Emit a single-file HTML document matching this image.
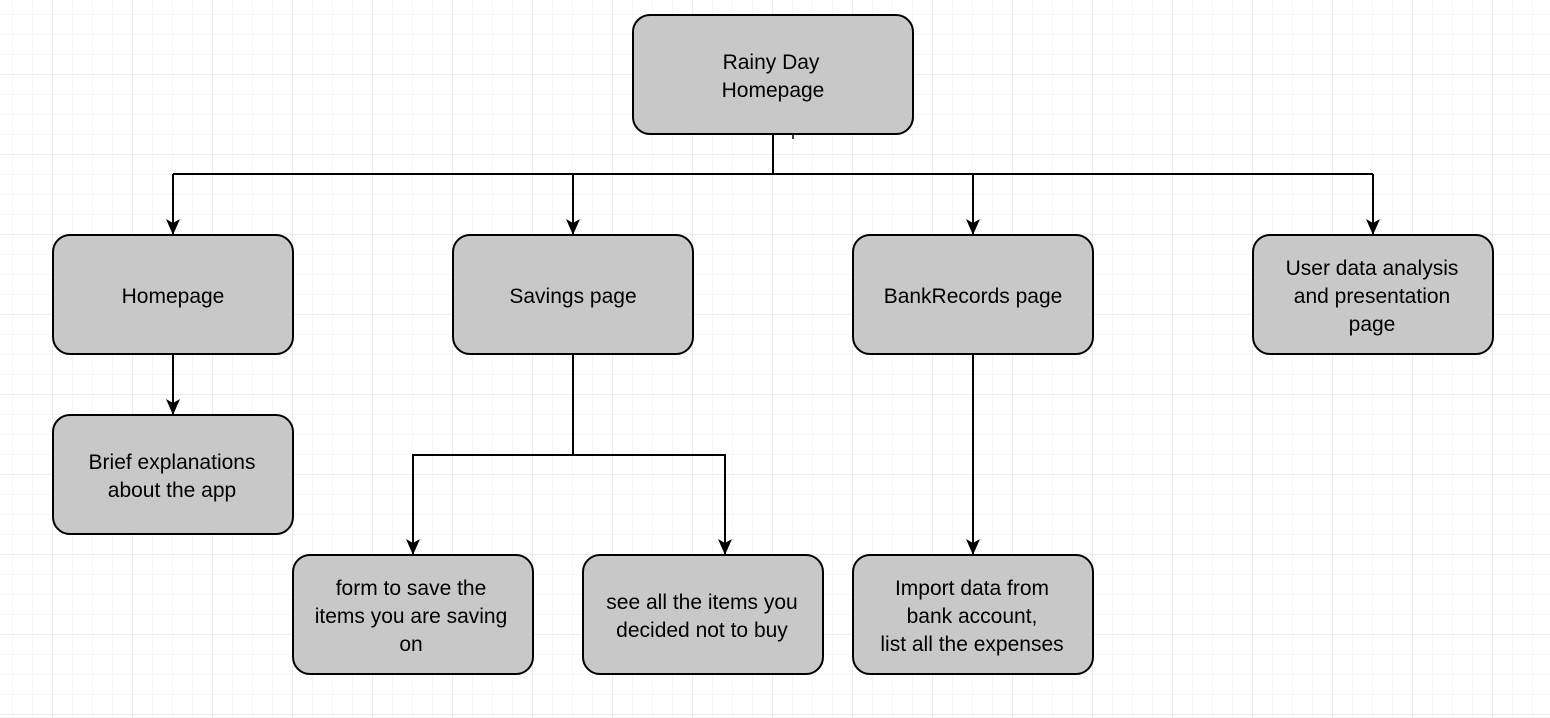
<!DOCTYPE html>
<html><head><style>
body{margin:0;background:#fff}
svg{display:block}
text{font-family:"Liberation Sans",Arial,sans-serif;font-size:21px;fill:#000;text-anchor:middle}
</style></head><body>
<svg width="1550" height="718" viewBox="0 0 1550 718">
<defs>
<pattern id="mi" x="12.5" y="14" width="20" height="20" patternUnits="userSpaceOnUse"><path d="M0 0V20M0 0H20" stroke="#efefef" stroke-width="1" fill="none"/></pattern>
<pattern id="ma" x="52.5" y="74" width="80" height="80" patternUnits="userSpaceOnUse"><path d="M0 0V80M0 0H80" stroke="#d8d8d8" stroke-width="1" fill="none"/></pattern>
<marker id="ar" markerWidth="16" markerHeight="16" viewBox="0 0 16 16" refX="15" refY="8" orient="auto" markerUnits="userSpaceOnUse"><path d="M0 1L16 8L0 15L4 8Z" fill="#000"/></marker>
</defs>
<rect width="1550" height="718" fill="url(#mi)"/>
<rect width="1550" height="718" fill="url(#ma)"/>
<g stroke="#000" stroke-width="2" fill="none">
<path d="M773 135V174M173 174H1373"/>
<path d="M173 174V234" marker-end="url(#ar)"/>
<path d="M573 174V234" marker-end="url(#ar)"/>
<path d="M973 174V234" marker-end="url(#ar)"/>
<path d="M1373 174V234" marker-end="url(#ar)"/>
<path d="M173 355V414" marker-end="url(#ar)"/>
<path d="M573 355V455H413V554" marker-end="url(#ar)"/>
<path d="M573 455H725V554" marker-end="url(#ar)"/>
<path d="M973 355V554" marker-end="url(#ar)"/>
<path d="M793 135V139" stroke-width="1.5"/>
</g>
<g fill="#c8c8c8" stroke="#000" stroke-width="2">
<rect x="633" y="15" width="280" height="119" rx="17"/>
<rect x="53" y="235" width="240" height="119" rx="17"/>
<rect x="453" y="235" width="240" height="119" rx="17"/>
<rect x="853" y="235" width="240" height="119" rx="17"/>
<rect x="1253" y="235" width="240" height="119" rx="17"/>
<rect x="53" y="415" width="240" height="119" rx="17"/>
<rect x="293" y="555" width="240" height="119" rx="17"/>
<rect x="583" y="555" width="240" height="119" rx="17"/>
<rect x="853" y="555" width="240" height="119" rx="17"/>
</g>
<text x="771" y="69">Rainy Day</text><text x="773" y="97">Homepage</text>
<text x="173" y="303">Homepage</text>
<text x="573" y="303">Savings page</text>
<text x="973" y="303">BankRecords page</text>
<text x="1372" y="275">User data analysis</text><text x="1372" y="303">and presentation</text><text x="1372" y="331">page</text>
<text x="172" y="469">Brief explanations</text><text x="172" y="497">about the app</text>
<text x="411" y="595">form to save the</text><text x="411" y="623">items you are saving</text><text x="411" y="651">on</text>
<text x="702" y="609">see all the items you</text><text x="702" y="637">decided not to buy</text>
<text x="972" y="595">Import data from</text><text x="972" y="623">bank account,</text><text x="972" y="651">list all the expenses</text>
</svg>
</body></html>
